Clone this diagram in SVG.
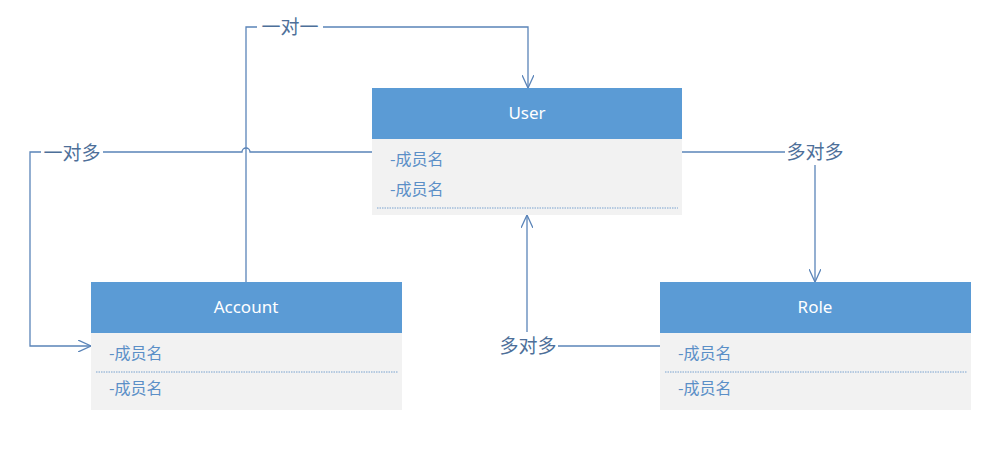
<svg xmlns="http://www.w3.org/2000/svg" width="1004" height="449" viewBox="0 0 1004 449">
<style>
.hdr{fill:#5B9BD5}
.body{fill:#F2F2F2}
.title{font-family:"Noto Sans","Liberation Sans",sans-serif;font-size:17px;fill:#FFFFFF;text-anchor:middle}
.attr{font-family:"Noto Sans CJK SC","Liberation Sans",sans-serif;font-size:16px;fill:#5B8FC7}
.sep{stroke:#5B8FC7;stroke-width:0.8;stroke-dasharray:1.5 1}
.conn{fill:none;stroke:#5A84B8;stroke-width:1.3}
.lbl{font-family:"Noto Sans CJK SC","Liberation Sans",sans-serif;font-size:19px;fill:#4D6F99;text-anchor:middle;dominant-baseline:central}
</style>
<defs>
<marker id="open" viewBox="0 0 14 12" refX="13" refY="6" markerWidth="14" markerHeight="12" markerUnits="userSpaceOnUse" orient="auto">
<path d="M0,0 L13,6 L0,12" fill="none" stroke="#5A84B8" stroke-width="1.3"/>
</marker>
</defs>
<rect width="1004" height="449" fill="#FFFFFF"/>
<g id="connectors">
<path class="conn" d="M246,282 V27 H528 V88" marker-end="url(#open)"/>
<path class="conn" d="M372,152 H250 A4,4 0 0 0 242,152 H30 V346 H91" marker-end="url(#open)"/>
<path class="conn" d="M682,152 H785"/>
<path class="conn" d="M815,165 V282" marker-end="url(#open)"/>
<path class="conn" d="M660,346 H558"/>
<path class="conn" d="M527,332 V215" marker-end="url(#open)"/>
<rect x="257" y="14" width="66" height="26" fill="#FFFFFF"/>
<text class="lbl" x="290" y="25">一对一</text>
<rect x="41" y="139" width="62" height="26" fill="#FFFFFF"/>
<text class="lbl" x="72" y="151">一对多</text>
<text class="lbl" x="815" y="150">多对多</text>
<text class="lbl" x="528" y="344">多对多</text>
</g>
<g id="user">
<rect class="body" x="372" y="139" width="310" height="76"/>
<rect class="hdr" x="372" y="88" width="310" height="51"/>
<text class="title" x="527" y="119">User</text>
<text class="attr" x="390" y="165">-成员名</text>
<text class="attr" x="390" y="195">-成员名</text>
<line class="sep" x1="377" y1="208" x2="678" y2="208"/>
</g>
<g id="account">
<rect class="body" x="91" y="333" width="311" height="77"/>
<rect class="hdr" x="91" y="282" width="311" height="51"/>
<text class="title" x="246" y="313">Account</text>
<text class="attr" x="109" y="359">-成员名</text>
<text class="attr" x="109" y="394">-成员名</text>
<line class="sep" x1="96" y1="372" x2="398" y2="372"/>
</g>
<g id="role">
<rect class="body" x="660" y="333" width="311" height="77"/>
<rect class="hdr" x="660" y="282" width="311" height="51"/>
<text class="title" x="815" y="313">Role</text>
<text class="attr" x="678" y="359">-成员名</text>
<text class="attr" x="678" y="394">-成员名</text>
<line class="sep" x1="665" y1="372" x2="967" y2="372"/>
</g>
</svg>
